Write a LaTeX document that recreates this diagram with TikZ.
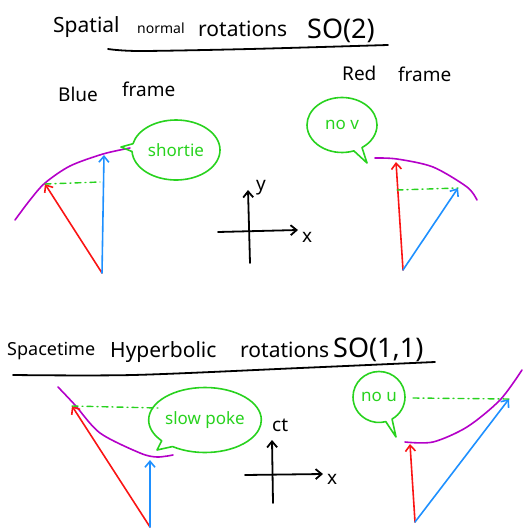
\documentclass[tikz,border=0pt]{standalone}
\usepackage{fontspec}
\setmainfont{Noto Sans}
\usetikzlibrary{arrows.meta,shapes.callouts}
\definecolor{penred}{RGB}{250,20,20}
\definecolor{penblue}{RGB}{30,144,255}
\definecolor{penpurple}{RGB}{180,0,200}
\definecolor{pengreen}{RGB}{40,210,30}
\begin{document}
\begin{tikzpicture}[x=1pt,y=-1pt,line cap=round,line join=round,
  ink/.style={line width=1.8pt,-{Straight Barb[length=6pt,width=10pt]}},
  vec/.style={line width=1.6pt,-{Straight Barb[length=6pt,width=10pt]}},
  curve/.style={penpurple,line width=1.6pt},
  guide/.style={pengreen,line width=1.4pt,dash pattern=on 6pt off 4pt on 1pt off 4pt},
  bubble/.style={ellipse callout,draw=pengreen,line width=1.6pt,text=pengreen,inner sep=0pt,font=\fontsize{17}{17}\selectfont},
  title/.style={font=\fontsize{21}{23}\selectfont,inner sep=0pt,anchor=base west},
  group/.style={font=\fontsize{27}{29}\selectfont,inner sep=0pt,anchor=base west},
  label/.style={font=\fontsize{19}{21}\selectfont,inner sep=0pt,anchor=base west}]
  \useasboundingbox (0,0) rectangle (522,529);

  % spatial rotations
  \node[title] (tSpatial) at (53,33) {Spatial};
  \node[anchor=base west,inner sep=0pt,font=\fontsize{14}{15}\selectfont] (tNormal) at (137,34) {normal};
  \node[title] (tRot) at (198,37) {rotations};
  \node[group] (tSO) at (307,39) {SO(2)};
  \draw[line width=1.8pt] plot[smooth] coordinates {(108,49) (140,51) (250,49) (388,45)};
  \node[label] (lBlue) at (58,102) {Blue};
  \node[label] (lBlueFrame) at (122,97) {frame};
  \node[label] (lRed) at (342,81) {Red};
  \node[label] (lRedFrame) at (398,82) {frame};

  \coordinate (yb) at (250,263);
  \coordinate (yt) at (248,190);
  \coordinate (xl) at (218,232);
  \coordinate (xr) at (298,230);
  \draw[ink] (yb) -- (yt);
  \draw[ink] (xl) -- (xr);
  \node[label] (ylab) at (256,190) {y};
  \node[label] (xlab) at (302,242) {x};

  \draw[curve] plot[smooth] coordinates {(15,220) (30,200) (45,183) (70,166) (103,154) (130,148)};
  \coordinate (oA) at (102,273);
  \coordinate (rA) at (45,184);
  \coordinate (bA) at (104,155);
  \coordinate (gA) at (100,182);
  \draw[vec,penred] (oA) -- (rA);
  \draw[vec,penblue] (oA) -- (bA);
  \draw[guide] (rA) -- (gA);
  \node[bubble,minimum width=88pt,minimum height=60pt,callout absolute pointer={(121,147)}] (bShort) at (176,150) {shortie};

  \draw[curve] plot[smooth] coordinates {(375,158) (397,159) (433,167) (467,187) (477,200)};
  \coordinate (oB) at (403,270);
  \coordinate (rB) at (396,162);
  \coordinate (bB) at (458,188);
  \coordinate (gB) at (397,190);
  \draw[vec,penred] (oB) -- (rB);
  \draw[vec,penblue] (oB) -- (bB);
  \draw[guide] (gB) -- (bB);
  \node[bubble,minimum width=70pt,minimum height=55pt,callout absolute pointer={(367,163)}] (bNoV) at (342,125) {no v};

  % hyperbolic rotations
  \node[title,font=\fontsize{18}{20}\selectfont] (tSpace) at (7,355) {Spacetime};
  \node[title] (tHyp) at (110,357) {Hyperbolic};
  \node[title] (tRot2) at (240,357) {rotations};
  \node[group] (tSO11) at (333,357) {SO(1,1)};
  \draw[line width=1.8pt] plot[smooth] coordinates {(13,375) (133,375) (300,368) (435,362)};

  \coordinate (ctb) at (273,503);
  \coordinate (ctt) at (272,440);
  \coordinate (xl2) at (245,475);
  \coordinate (xr2) at (323,474);
  \draw[ink] (ctb) -- (ctt);
  \draw[ink] (xl2) -- (xr2);
  \node[label] (ctlab) at (272,431) {ct};
  \node[label] (xlab2) at (327,484) {x};

  \draw[curve] plot[smooth] coordinates {(58,387) (75,405) (100,433) (140,453) (157,457) (173,455)};
  \coordinate (oC) at (150,527);
  \coordinate (rC) at (72,406);
  \coordinate (bC) at (150,460);
  \coordinate (gC) at (158,408);
  \draw[vec,penred] (oC) -- (rC);
  \draw[vec,penblue] (oC) -- (bC);
  \draw[guide] (rC) -- (gC);
  \node[bubble,minimum width=94pt,minimum height=65pt,callout absolute pointer={(157,450)}] (bSlow) at (205,420) {slow poke};

  \draw[curve] plot[smooth] coordinates {(405,442) (433,442) (467,427) (500,400) (522,370)};
  \coordinate (oD) at (415,522);
  \coordinate (rD) at (410,444);
  \coordinate (bD) at (509,399);
  \coordinate (gD) at (413,398);
  \draw[vec,penred] (oD) -- (rD);
  \draw[vec,penblue] (oD) -- (bD);
  \draw[guide] (gD) -- (bD);
  \node[bubble,minimum width=52pt,minimum height=51pt,callout absolute pointer={(396,437)}] (bNoU) at (379,397) {no u};
\end{tikzpicture}
\end{document}
